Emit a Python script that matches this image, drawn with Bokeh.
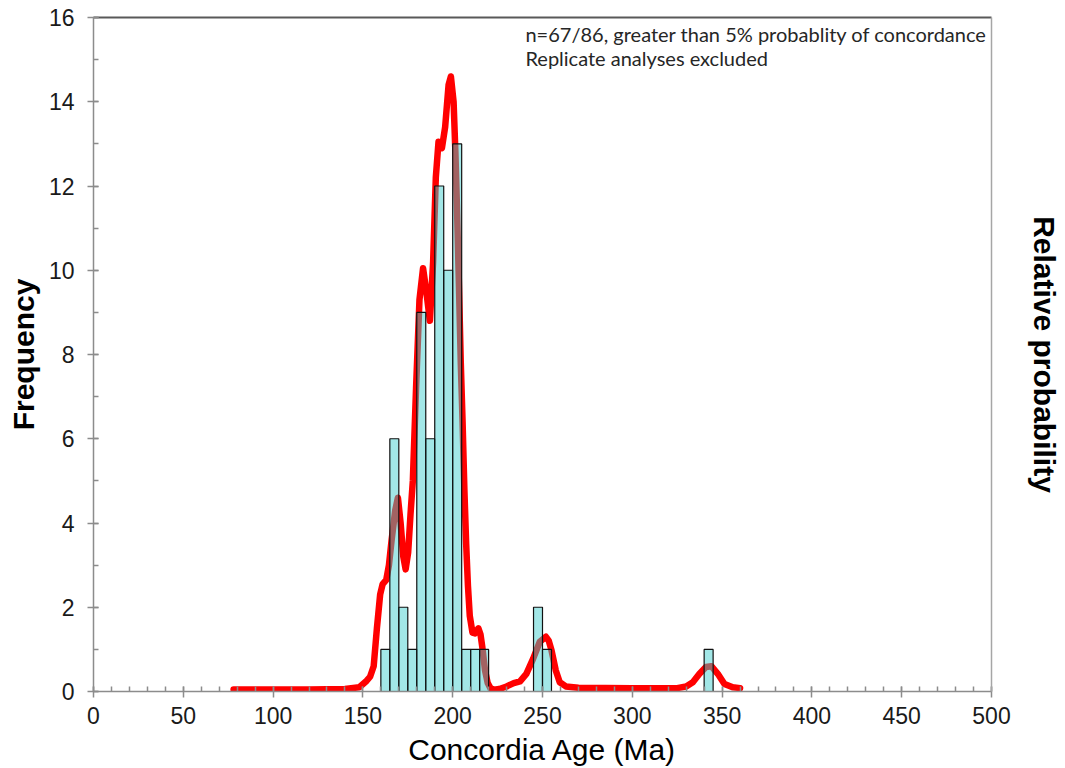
from bokeh.plotting import figure
from bokeh.models import Range1d, LinearAxis, FixedTicker, Label, ColumnDataSource
from bokeh.embed import file_html
from bokeh.resources import INLINE

# ---- data ----
bin_left = [160, 165, 170, 175, 180, 185, 190, 195, 200, 205, 210, 215, 245, 250, 340]
counts   = [1,   6,   2,   1,   9,   6,   12,  10,  13,  1,   1,   1,   2,   1,   1]
bin_width = 5

pdp_age = [78, 100, 120, 140, 148, 152, 154, 156, 157.8, 159.6, 161, 163, 164.5, 166, 168,
           169.5, 171, 172.5, 173.8, 175.2, 176.5, 177.8, 179.6, 181.5, 183.5, 185.3, 187.3,
           189.1, 190.6, 192.1, 194.0, 195.8, 197.7, 199.0, 200.5, 201.5, 202.5, 203.5, 204.5,
           205.5, 206.5, 207.5, 208.5, 209.5, 211, 212.5, 214.3, 215.5, 216.5, 218, 219.5, 221,
           223, 226, 230, 234, 237.5, 241, 244.8, 248.5, 251.9, 253.5, 255, 257.4, 259.6, 263,
           270, 300, 325, 330, 333.7, 337.4, 341, 344, 347.6, 351.3, 355.9, 360]
pdp_val = [0.05, 0.05, 0.05, 0.06, 0.1, 0.25, 0.35, 0.6, 1.5, 2.3, 2.55, 2.65, 3.0, 3.6, 4.3,
           4.6, 4.0, 3.2, 2.9, 3.3, 4.2, 5.0, 7.2, 9.3, 10.05, 9.5, 8.8,
           10.2, 12.2, 13.05, 12.9, 13.4, 14.4, 14.6, 14.0, 12.8, 11.3, 9.6, 7.8,
           6.4, 4.8, 3.5, 2.5, 1.8, 1.4, 1.38, 1.5, 1.35, 1.05, 0.5, 0.2, 0.08,
           0.04, 0.06, 0.12, 0.2, 0.24, 0.42, 0.78, 1.18, 1.3, 1.2, 0.98, 0.5, 0.22, 0.12,
           0.09, 0.08, 0.08, 0.12, 0.22, 0.42, 0.58, 0.6, 0.42, 0.18, 0.1, 0.08]

x_ticks = [0, 50, 100, 150, 200, 250, 300, 350, 400, 450, 500]
y_ticks = [0, 2, 4, 6, 8, 10, 12, 14, 16]
note_lines = ["n=67/86, greater than 5% probablity of concordance",
              "Replicate analyses excluded"]

FONT = "Liberation Sans"
AXIS_GRAY = "#8c8c8c"

p = figure(frame_width=898, frame_height=674,
           min_border_left=93, min_border_right=67, min_border_top=17, min_border_bottom=75,
           x_range=Range1d(0, 500), y_range=Range1d(0, 16),
           output_backend="svg", toolbar_location=None,
           x_axis_label="Concordia Age (Ma)", y_axis_label="Frequency")
p.extra_y_ranges = {"prob": Range1d(0, 16)}
p.outline_line_color = None
p.xgrid.visible = False
p.ygrid.visible = False
p.background_fill_color = "white"
p.border_fill_color = "white"

# relative probability curve (behind the bars)
p.line(pdp_age, pdp_val, y_range_name="prob", line_color="#ff0000", line_width=6.5,
       line_join="round", line_cap="round")

src = ColumnDataSource(dict(left=bin_left,
                            right=[b + bin_width for b in bin_left],
                            top=counts, bottom=[0] * len(counts)))
p.quad(left="left", right="right", top="top", bottom="bottom", source=src,
       fill_color="#3ccccc", fill_alpha=0.48, line_color="#111111", line_width=1.2)

for ax, ticks in ((p.xaxis[0], x_ticks), (p.yaxis[0], y_ticks)):
    ax.ticker = FixedTicker(ticks=ticks,
                            minor_ticks=(list(range(0, 501, 10)) if ticks is x_ticks else list(range(0, 17))))
    ax.axis_line_color = AXIS_GRAY
    ax.axis_line_width = 1.5
    ax.major_tick_line_color = AXIS_GRAY
    ax.major_tick_line_width = 1.5
    ax.minor_tick_line_color = AXIS_GRAY
    ax.minor_tick_line_width = 1.5
    ax.major_tick_in = 5
    ax.major_tick_out = 6
    ax.minor_tick_in = 5
    ax.minor_tick_out = 0
    ax.major_label_text_font = FONT
    ax.major_label_text_font_size = "23px"
    ax.major_label_text_color = "#1a1a1a"
    ax.axis_label_text_font = FONT
    ax.axis_label_text_font_size = "30px"
    ax.axis_label_text_color = "#000000"

p.xaxis[0].axis_label_text_font_style = "normal"
p.xaxis[0].major_label_standoff = 9
p.xaxis[0].axis_label_standoff = 6
p.yaxis[0].axis_label_text_font_style = "bold"
p.yaxis[0].major_label_standoff = 13
p.yaxis[0].axis_label_standoff = 6

right = LinearAxis(y_range_name="prob", axis_label="Relative probability",
                   ticker=FixedTicker(ticks=[]))
right.axis_line_color = "#a6a6a6"
right.axis_line_width = 1.5
right.major_tick_line_color = None
right.minor_tick_line_color = None
right.major_label_text_color = None
right.axis_label_text_font = FONT
right.axis_label_text_font_size = "30px"
right.axis_label_text_font_style = "bold"
right.axis_label_text_color = "#000000"
right.axis_label_standoff = 36
p.add_layout(right, "right")

top = LinearAxis(ticker=FixedTicker(ticks=[]))
top.axis_line_color = "#595959"
top.axis_line_width = 2
top.major_tick_line_color = None
top.minor_tick_line_color = None
top.major_label_text_color = None
p.add_layout(top, "above")

for i, line in enumerate(note_lines):
    p.add_layout(Label(x=240.5, y=15.62 - i * 0.59, text=line,
                       text_font="Lato", text_font_size="20px",
                       text_color="#262626", text_baseline="alphabetic"))

open("out.html", "w").write(file_html(p, INLINE))
